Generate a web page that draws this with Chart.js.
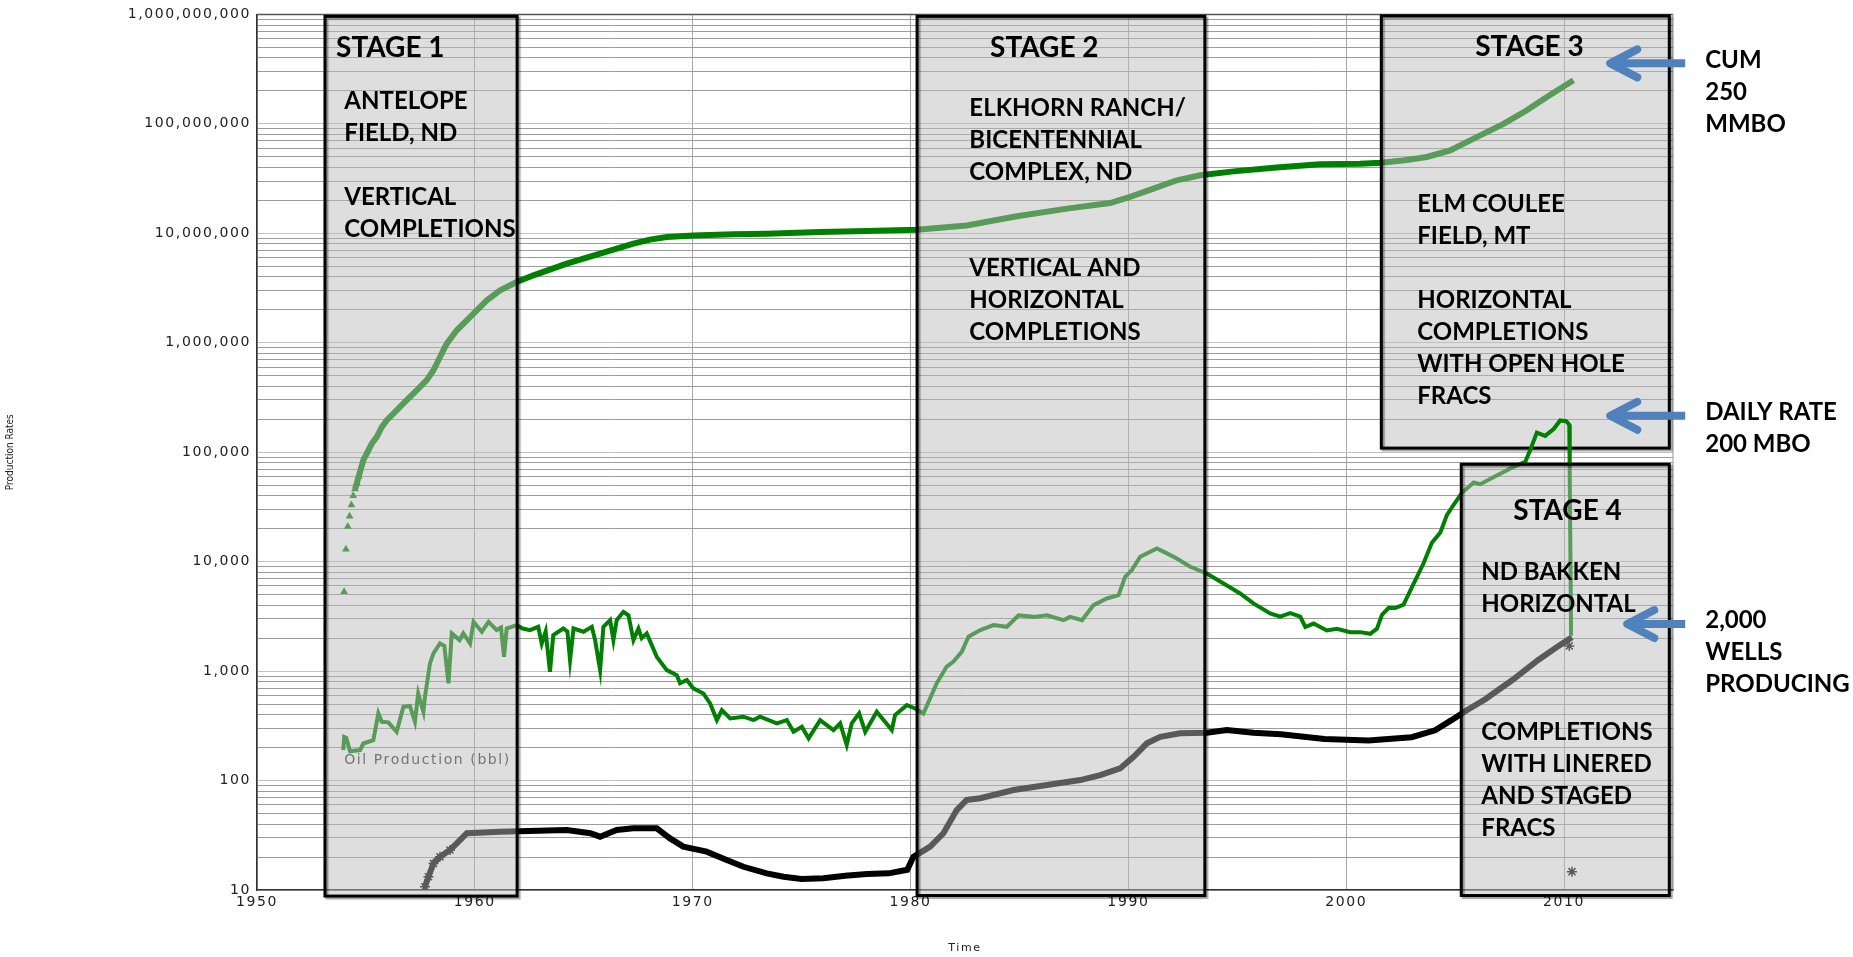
<!DOCTYPE html>
<html>
<head>
<meta charset="utf-8">
<title>Production history</title>
<script src="https://cdn.jsdelivr.net/npm/chart.js@4.4.1/dist/chart.umd.min.js"></script>
<style>
  html, body { margin: 0; padding: 0; background: #fff; }
  canvas { display: block; }
</style>
</head>
<body>
<canvas id="grafico" width="1853" height="957"></canvas>
<script>
// axis ticks
const xTickYears = [1950, 1960, 1970, 1980, 1990, 2000, 2010]
const yDecades = [10, 100, 1000, 10000, 100000, 1000000, 10000000, 100000000, 1000000000]

// cumulative oil (bbl), triangles
const cumYears = [
  1954.0, 1954.083, 1954.167, 1954.25, 1954.333, 1954.417, 1954.5, 1954.583, 1954.667, 1954.75,
  1954.88, 1955.04, 1955.27, 1955.5, 1955.73, 1955.96, 1956.42, 1956.87, 1957.33, 1957.79,
  1958.1, 1958.4, 1958.71, 1959.17, 1959.63, 1960.09, 1960.55, 1961.16, 1961.92, 1962.69,
  1964.22, 1965.75, 1967.28, 1968.04, 1968.81, 1970.03, 1971.87, 1973.4, 1975.85, 1978.0,
  1980.29, 1982.58, 1984.88, 1987.18, 1989.16, 1990.08, 1991.15, 1992.22, 1993.3, 1994.83,
  1996.8, 1998.8, 2000.64, 2001.59, 2002.7, 2003.7, 2004.77, 2005.99, 2007.22, 2008.29,
  2009.21, 2010.43]
const cumValues = [
  5300, 13000, 21000, 26000, 33000, 40000, 46000, 52000, 60000, 68500,
  84500, 97300, 120000, 138000, 170000, 196000, 242000, 299000, 368000, 455000,
  561000, 741000, 982000, 1300000, 1600000, 1980000, 2440000, 3010000, 3590000, 4130000,
  5280000, 6520000, 8050000, 8750000, 9250000, 9530000, 9790000, 9930000, 10280000, 10500000,
  10800000, 11800000, 14300000, 16800000, 18900000, 21500000, 25600000, 30500000, 33900000, 36800000,
  40000000, 42700000, 43300000, 44200000, 46500000, 49800000, 57300000, 75700000, 100000000, 133000000,
  176000000, 250000000]

// oil production rate (bbl/day)
const rateYears = [
  1953.96, 1954.0, 1954.1, 1954.27, 1954.73, 1954.88, 1955.34, 1955.57, 1955.73, 1956.03,
  1956.41, 1956.72, 1957.02, 1957.25, 1957.4, 1957.64, 1957.71, 1957.94, 1958.1, 1958.4,
  1958.6, 1958.79, 1958.94, 1959.3, 1959.47, 1959.78, 1959.94, 1960.32, 1960.63, 1961.0,
  1961.2, 1961.34, 1961.46, 1961.92, 1962.2, 1962.53, 1962.91, 1963.07, 1963.25, 1963.45,
  1963.6, 1964.06, 1964.25, 1964.37, 1964.53, 1964.99, 1965.37, 1965.52, 1965.75, 1965.9,
  1966.21, 1966.36, 1966.51, 1966.82, 1967.05, 1967.28, 1967.51, 1967.66, 1967.89, 1968.35,
  1968.81, 1969.27, 1969.42, 1969.73, 1970.03, 1970.49, 1970.8, 1971.11, 1971.34, 1971.72,
  1972.33, 1972.79, 1973.09, 1973.86, 1974.32, 1974.63, 1975.01, 1975.32, 1975.85, 1976.46,
  1976.77, 1977.07, 1977.3, 1977.64, 1977.92, 1978.45, 1979.14, 1979.29, 1979.83, 1980.21,
  1980.59, 1981.2, 1981.66, 1981.97, 1982.35, 1982.66, 1983.2, 1983.81, 1984.42, 1984.96,
  1985.65, 1986.26, 1987.02, 1987.33, 1987.87, 1988.4, 1989.01, 1989.55, 1989.85, 1990.16,
  1990.54, 1991.31, 1991.77, 1992.22, 1992.84, 1993.6, 1994.37, 1995.13, 1995.74, 1996.51,
  1996.97, 1997.43, 1997.89, 1998.12, 1998.5, 1999.11, 1999.57, 2000.18, 2000.64, 2001.1,
  2001.41, 2001.64, 2001.94, 2002.25, 2002.63, 2003.09, 2003.55, 2003.93, 2004.32, 2004.62,
  2004.93, 2005.31, 2005.85, 2006.15, 2006.76, 2007.22, 2007.68, 2008.22, 2008.45, 2008.75,
  2009.13, 2009.52, 2009.82, 2010.1, 2010.24, 2010.26, 2010.3, 2010.32]
const rateValues = [
  190, 250, 245, 185, 190, 218, 234, 411, 344, 340,
  279, 472, 480, 344, 625, 425, 583, 1175, 1450, 1790,
  1700, 773, 2210, 1920, 2210, 1790, 2820, 2290, 2820, 2370,
  2500, 1350, 2450, 2630, 2450, 2370, 2540, 1790, 2300, 986,
  2130, 2450, 2300, 1260, 2450, 2290, 2540, 1920, 1020, 2540,
  2920, 1920, 2920, 3480, 3240, 1920, 2450, 2000, 2210, 1350,
  1020, 918, 773, 828, 695, 625, 507, 357, 440, 370,
  383, 357, 383, 333, 357, 279, 310, 243, 357, 289,
  333, 211, 333, 411, 279, 425, 289, 397, 489, 456,
  410, 773, 1100, 1220, 1500, 2060, 2370, 2630, 2540, 3240,
  3130, 3240, 2920, 3130, 2920, 4010, 4610, 4940, 7280, 8370,
  11100, 13200, 11900, 10700, 8970, 7800, 6320, 5120, 4150, 3370,
  3150, 3380, 3150, 2530, 2720, 2350, 2440, 2270, 2270, 2190,
  2440, 3260, 3770, 3770, 4050, 6250, 9660, 14900, 18500, 26600,
  33100, 42600, 53000, 51000, 59000, 65800, 73400, 81700, 105000, 151000,
  141000, 163000, 195000, 192000, 178000, 59000, 7300, 2100]

// producing wells, stars
const wellYears = [
  1957.71, 1957.87, 1958.1, 1958.4, 1958.86, 1959.32, 1959.63, 1961.16, 1964.22, 1965.3,
  1965.75, 1966.51, 1967.28, 1968.35, 1968.96, 1969.57, 1970.64, 1971.56, 1972.33, 1973.4,
  1974.17, 1975.0, 1976.0, 1977.0, 1978.0, 1979.0, 1979.85, 1980.13, 1980.9, 1981.51,
  1982.12, 1982.58, 1983.2, 1984.73, 1986.26, 1987.79, 1988.71, 1989.62, 1990.24, 1990.85,
  1991.46, 1992.38, 1993.6, 1994.52, 1995.74, 1997.0, 1999.0, 2001.02, 2003.0, 2004.08,
  2004.85, 2005.46, 2006.38, 2007.61, 2008.83, 2009.75, 2010.36]
const wellValues = [
  10.7, 13.2, 17.5, 20.1, 23.2, 28.6, 33, 34.1, 35.3, 33,
  30.7, 35.3, 36.6, 36.6, 29.6, 24.9, 22.4, 18.8, 16.3, 14.2,
  13.2, 12.6, 12.8, 13.5, 14.0, 14.2, 15.3, 20.1, 24.9, 33,
  53.8, 66.5, 68.9, 81.9, 91, 101, 112, 129, 165, 219,
  251, 270, 274, 289, 274, 265, 240, 232, 249, 288,
  358, 430, 553, 824, 1270, 1700, 2040]
const strayYears = [2010.24, 2010.36]
const strayValues = [1700, 14.7]

// annotation boxes (years / axis values)
const stages = [
  { x0: 1953.12, x1: 1961.94, top: 9.6e8, bottom: 8.8,
    title: 'STAGE 1', titleAt: [1953.63, 5.0e8], textAt: [1954.01, 1.64e8],
    lines: ['ANTELOPE', 'FIELD, ND', '', 'VERTICAL', 'COMPLETIONS'] },
  { x0: 1980.3, x1: 1993.51, top: 9.6e8, bottom: 8.9,
    title: 'STAGE 2', titleAt: [1983.65, 5.0e8], textAt: [1982.7, 1.42e8],
    lines: ['ELKHORN RANCH/', 'BICENTENNIAL', 'COMPLEX, ND', '', '', 'VERTICAL AND', 'HORIZONTAL', 'COMPLETIONS'] },
  { x0: 2001.61, x1: 2014.83, top: 9.7e8, bottom: 109000,
    title: 'STAGE 3', titleAt: [2005.92, 5.1e8], textAt: [2003.26, 1.88e7],
    lines: ['ELM COULEE', 'FIELD, MT', '', 'HORIZONTAL', 'COMPLETIONS', 'WITH OPEN HOLE', 'FRACS'] },
  { x0: 2005.28, x1: 2014.83, top: 77600, bottom: 8.9,
    title: 'STAGE 4', titleAt: [2007.67, 29500], textAt: [2006.2, 8190],
    lines: ['ND BAKKEN', 'HORIZONTAL', '', '', '', 'COMPLETIONS', 'WITH LINERED', 'AND STAGED', 'FRACS'] }
]
const notes = [
  { at: [2016.48, 3.88e8], lines: ['CUM', '250', 'MMBO'], arrow: [2012.12, 2015.56, 3.57e8] },
  { at: [2016.48, 236600], lines: ['DAILY RATE', '200 MBO'], arrow: [2012.12, 2015.56, 215000] },
  { at: [2016.48, 2985], lines: ['2,000', 'WELLS', 'PRODUCING'], arrow: [2012.9, 2015.56, 2690] }
]
const seriesLabelAt = [1954.0, 154]

const GREEN = '#008000'
const VEIL = 'rgba(187,187,187,0.48)'
const LINE_H = 32

const pairs = (xs, ys) => xs.map((x, i) => ({ x, y: ys[i] }))

function drawStage(chart, s) {
  const { ctx, scales: { x, y } } = chart
  const l = x.getPixelForValue(s.x0), r = x.getPixelForValue(s.x1)
  const t = y.getPixelForValue(s.top), b = y.getPixelForValue(s.bottom)
  ctx.save()
  ctx.fillStyle = VEIL
  ctx.fillRect(l, t, r - l, b - t)
  ctx.shadowColor = 'rgba(0,0,0,0.35)'
  ctx.shadowOffsetX = 2
  ctx.shadowOffsetY = 2
  ctx.shadowBlur = 1
  ctx.lineWidth = 3
  ctx.strokeStyle = '#000'
  ctx.strokeRect(l, t, r - l, b - t)
  ctx.restore()
}

function drawLines(ctx, lines, px, py, size) {
  ctx.save()
  ctx.letterSpacing = '0px'
  ctx.font = `bold ${size}px Lato, "Open Sans", sans-serif`
  ctx.fillStyle = '#000'
  ctx.textAlign = 'left'
  ctx.textBaseline = 'alphabetic'
  lines.forEach((t, i) => {
    if (t) ctx.fillText(t, px, py + i * LINE_H + size * 0.36)
  })
  ctx.restore()
}

function drawArrow(ctx, xTip, xTail, yy) {
  ctx.save()
  ctx.strokeStyle = '#4F81BD'
  ctx.lineWidth = 8
  ctx.lineCap = 'butt'
  ctx.beginPath()
  ctx.moveTo(xTip + 4, yy)
  ctx.lineTo(xTail, yy)
  ctx.stroke()
  ctx.lineCap = 'round'
  ctx.lineJoin = 'round'
  ctx.beginPath()
  ctx.moveTo(xTip + 27, yy - 14)
  ctx.lineTo(xTip, yy)
  ctx.lineTo(xTip + 27, yy + 14)
  ctx.stroke()
  ctx.restore()
}

const stagePlugin = {
  id: 'stagePlugin',
  beforeDraw(chart) {
    // axis texts in the original are drawn loosely spaced
    chart.ctx.letterSpacing = '1.6px'
  },
  beforeDatasetsDraw(chart) {
    const { ctx, chartArea: a } = chart
    ctx.save()
    ctx.strokeStyle = '#555'
    ctx.lineWidth = 1.5
    ctx.beginPath(); ctx.moveTo(a.left, a.top); ctx.lineTo(a.right, a.top); ctx.stroke()
    ctx.strokeStyle = '#999'
    ctx.lineWidth = 1
    ctx.beginPath(); ctx.moveTo(a.right, a.top); ctx.lineTo(a.right, a.bottom); ctx.stroke()
    // y axis title, narrow and not spaced
    ctx.letterSpacing = '0px'
    ctx.translate(10, (a.top + a.bottom) / 2)
    ctx.rotate(-Math.PI / 2)
    ctx.font = '10px "Liberation Sans Narrow", "DejaVu Sans Condensed", sans-serif'
    ctx.fillStyle = '#222'
    ctx.textAlign = 'center'
    ctx.textBaseline = 'middle'
    ctx.fillText('Production Rates', 0, 0)
    ctx.restore()
  },
  afterDatasetDraw(chart, args) {
    // stage 3 sits above the cumulative curve but below the rate curve
    if (args.index === 0) drawStage(chart, stages[2])
  },
  afterDatasetsDraw(chart) {
    const { ctx, scales: { x, y } } = chart
    ctx.save()
    ctx.letterSpacing = '1.6px'
    ctx.font = '14px "DejaVu Sans", sans-serif'
    ctx.fillStyle = '#333'
    ctx.textAlign = 'left'
    ctx.textBaseline = 'middle'
    ctx.fillText('Oil Production (bbl)', x.getPixelForValue(seriesLabelAt[0]), y.getPixelForValue(seriesLabelAt[1]))
    ctx.restore()

    drawStage(chart, stages[0])
    drawStage(chart, stages[1])
    drawStage(chart, stages[3])

    stages.forEach(s => {
      drawLines(ctx, [s.title], x.getPixelForValue(s.titleAt[0]), y.getPixelForValue(s.titleAt[1]), 28)
      drawLines(ctx, s.lines, x.getPixelForValue(s.textAt[0]), y.getPixelForValue(s.textAt[1]), 24)
    })
  },
  afterDraw(chart) {
    const { ctx, scales: { x, y } } = chart
    notes.forEach(n => {
      drawArrow(ctx, x.getPixelForValue(n.arrow[0]), x.getPixelForValue(n.arrow[1]), y.getPixelForValue(n.arrow[2]))
      drawLines(ctx, n.lines, x.getPixelForValue(n.at[0]), y.getPixelForValue(n.at[1]), 24)
    })
  }
}

const grafico = document.querySelector('#grafico')

const datasets = [
  {
    label: 'Cumulative Oil (bbl)',
    data: pairs(cumYears, cumValues),
    borderColor: GREEN,
    borderWidth: 6,
    pointStyle: 'triangle',
    pointRadius: (c) => c.dataIndex < 9 ? 4.5 : 0,
    pointBackgroundColor: GREEN,
    pointBorderColor: GREEN,
    pointBorderWidth: 0,
    segment: { borderColor: (c) => c.p0DataIndex < 6 ? 'rgba(0,0,0,0)' : GREEN },
    order: 3
  },
  {
    label: 'Oil Production (bbl)',
    data: pairs(rateYears, rateValues),
    borderColor: GREEN,
    borderWidth: 4,
    pointRadius: 0,
    order: 1
  },
  {
    label: 'Producing Wells',
    data: pairs(wellYears, wellValues),
    borderColor: '#000',
    borderWidth: 6,
    pointStyle: 'star',
    pointRadius: (c) => c.dataIndex < 5 ? 5 : 0,
    pointBorderColor: '#000',
    pointBorderWidth: 1.5,
    order: 2
  },
  {
    label: 'wells (single months)',
    data: pairs(strayYears, strayValues),
    showLine: false,
    pointStyle: 'star',
    pointRadius: 5,
    pointBorderColor: '#000',
    pointBorderWidth: 1.5,
    order: 2
  }
]

const config = {
  type: 'line',
  data: { datasets },
  options: {
    responsive: false,
    animation: false,
    layout: { padding: { top: 14, right: 180, bottom: 0, left: 0 } },
    plugins: { legend: { display: false }, tooltip: { enabled: false } },
    elements: { line: { tension: 0 } },
    scales: {
      x: {
        type: 'linear',
        min: 1950,
        max: 2015,
        afterBuildTicks: (scale) => { scale.ticks = xTickYears.map(v => ({ value: v })) },
        afterFit: (scale) => { scale.height = 67 },
        ticks: {
          callback: (v) => String(v),
          font: { family: '"DejaVu Sans", sans-serif', size: 14 },
          color: '#222',
          padding: 4,
          maxRotation: 0,
          autoSkip: false
        },
        grid: { color: '#a8a8a8', lineWidth: 1, drawTicks: false },
        border: { color: '#333', width: 1.5 },
        title: {
          display: true,
          text: 'Time',
          font: { family: '"DejaVu Sans", sans-serif', size: 11 },
          color: '#222',
          padding: { top: 0, bottom: 2 }
        }
      },
      y: {
        type: 'logarithmic',
        min: 10,
        max: 1000000000,
        afterBuildTicks: (scale) => {
          const t = []
          for (let e = 1; e < 9; e++) {
            for (let m = 1; m < 10; m++) t.push({ value: m * Math.pow(10, e) })
          }
          t.push({ value: 1000000000 })
          scale.ticks = t
        },
        afterFit: (scale) => { scale.width = 257 },
        ticks: {
          autoSkip: false,
          callback: (v) => yDecades.includes(v) ? v.toLocaleString('en-US') : '',
          font: { family: '"DejaVu Sans", sans-serif', size: 14 },
          color: '#222',
          padding: 6
        },
        grid: {
          color: (c) => yDecades.includes(c.tick && c.tick.value) ? '#c4c4c4' : '#9c9c9c',
          lineWidth: 1,
          drawTicks: false
        },
        border: { color: '#333', width: 1.5 }
      }
    }
  },
  plugins: [stagePlugin]
}

new Chart(grafico, config)
</script>
</body>
</html>
